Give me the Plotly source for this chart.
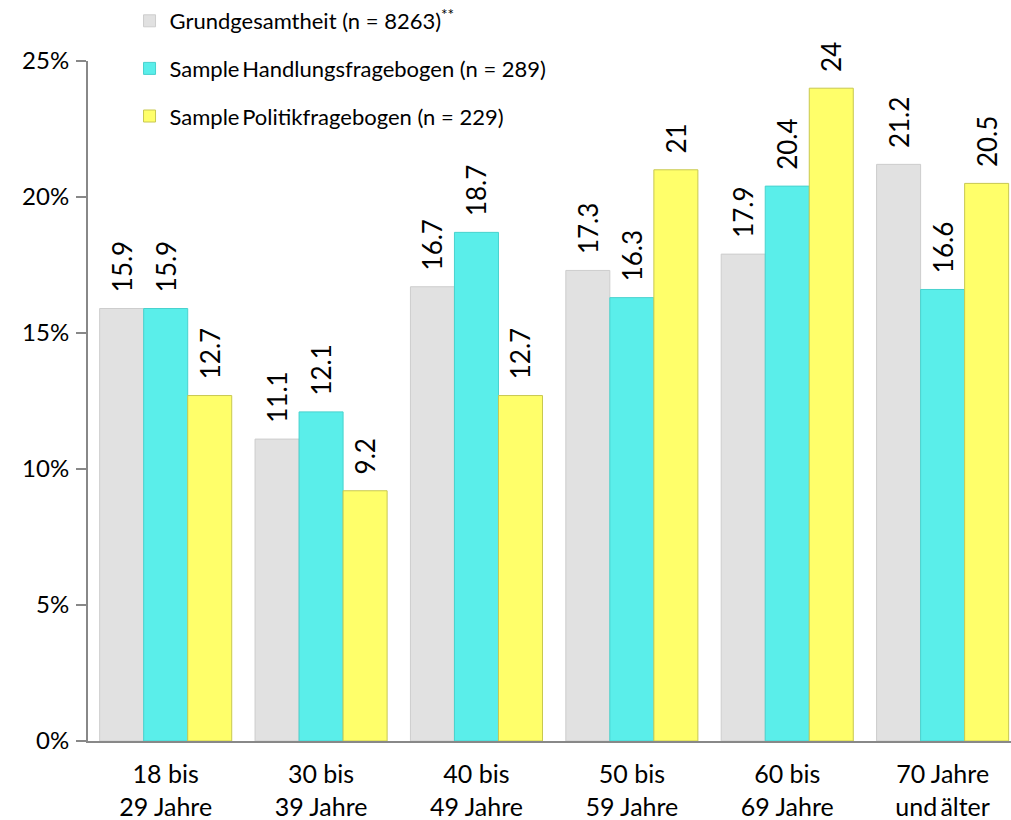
import plotly.graph_objects as go

# Age groups and shares (percent) per sample
categories = ["18 bis<br>29 Jahre", "30 bis<br>39 Jahre", "40 bis<br>49 Jahre",
              "50 bis<br>59 Jahre", "60 bis<br>69 Jahre", "70 Jahre<br>und\u2009älter"]
grundgesamtheit = [15.9, 11.1, 16.7, 17.3, 17.9, 21.2]
handlungsfragebogen = [15.9, 12.1, 18.7, 16.3, 20.4, 16.6]
politikfragebogen = [12.7, 9.2, 12.7, 21, 24, 20.5]

series = [
    ("Grundgesamtheit (n = 8263)<sup>**</sup>", grundgesamtheit, "#e1e1e1", "#cdcdcd"),
    ("Sample\u2009Handlungsfragebogen (n = 289)", handlungsfragebogen, "#5aeeea", "#48d2ce"),
    ("Sample\u2009Politikfragebogen (n = 229)", politikfragebogen, "#ffff6a", "#c8c850"),
]

FONT = "Lato, 'Open Sans', sans-serif"

fig = go.Figure()
for i, (name, vals, fill, edge) in enumerate(series):
    fig.add_trace(go.Bar(
        x=categories, y=vals, name=name, legendgroup=f"g{i}",
        marker=dict(color=fill, line=dict(color=edge, width=1)),
        # leading spaces keep the rotated value clear of the bar top
        text=[f"\u00a0\u00a0{v:g}" for v in vals], textposition="outside", textangle=-90,
        constraintext="none",
        textfont=dict(size=26, color="#000000", family=FONT),
        cliponaxis=False,
    ))

fig.update_layout(
    width=1011, height=820,
    margin=dict(l=88, r=0, t=59, b=79),
    paper_bgcolor="white", plot_bgcolor="white",
    barmode="group", bargap=0.15, bargroupgap=0,
    font=dict(family=FONT, size=22, color="#000000"),
    showlegend=True,
    legend=dict(x=0.045, y=1.09, xanchor="left", yanchor="top",
                bgcolor="rgba(0,0,0,0)", traceorder="grouped", tracegroupgap=16,
                font=dict(size=22, family=FONT), itemwidth=30),
    xaxis=dict(range=[-0.5, 5.44], showline=True, linecolor="#888888", linewidth=2,
               ticks="", tickfont=dict(size=25), showgrid=False,
               ticklabelstandoff=10),
    yaxis=dict(range=[0, 25], tickvals=[0, 5, 10, 15, 20, 25],
               ticktext=["0%", "5%", "10%", "15%", "20%", "25%"],
               showline=True, linecolor="#888888", linewidth=2,
               ticks="outside", ticklen=10, tickcolor="#888888", tickwidth=1.5,
               showgrid=False, zeroline=False, tickfont=dict(size=24),
               ticklabelstandoff=2),
)

fig.write_html("out.html")
